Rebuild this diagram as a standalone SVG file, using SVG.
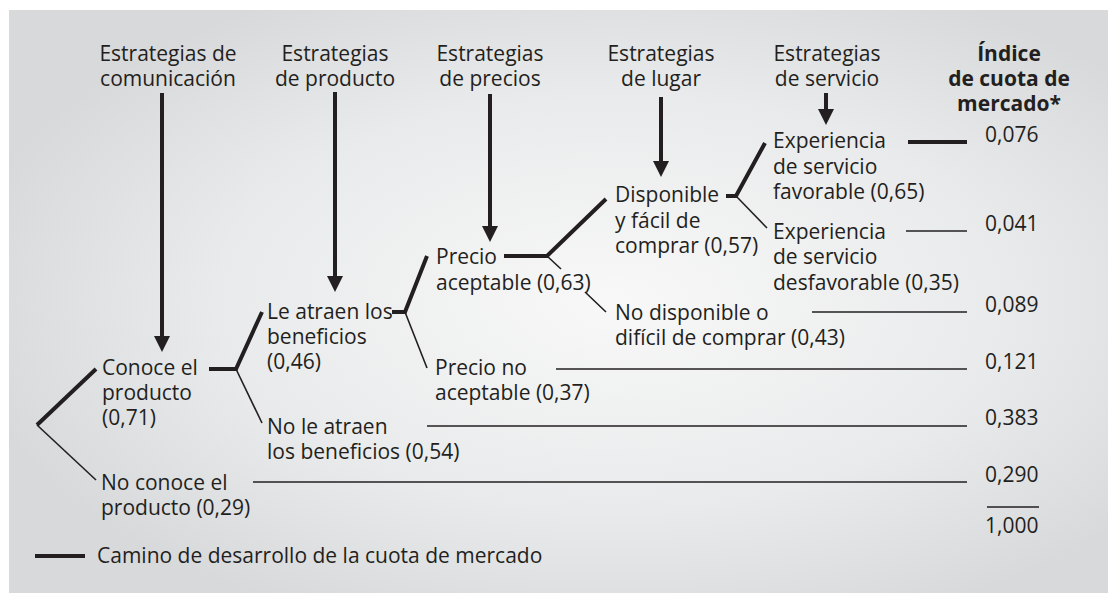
<svg xmlns="http://www.w3.org/2000/svg" width="1108" height="593" viewBox="0 0 1108 593">
<defs>
<radialGradient id="bg" cx="0.55" cy="0.5" r="0.6">
<stop offset="0" stop-color="#f8f8f8"/>
<stop offset="0.6" stop-color="#e9eaeb"/>
<stop offset="1" stop-color="#d8d9db"/>
</radialGradient>
<marker id="ah" viewBox="0 0 16 16" refX="4" refY="8" markerWidth="16" markerHeight="16" markerUnits="userSpaceOnUse" orient="auto">
<path d="M0,0 L16,8 L0,16 Z" fill="#231f20"/>
</marker>
<style>
text{font-family:"Open Sans","Noto Sans","DejaVu Sans",sans-serif;font-size:21px;fill:#231f20}
.h{text-anchor:middle}
.b{font-weight:bold}
.thick{stroke:#231f20;stroke-width:4;fill:none}
.thin{stroke:#231f20;stroke-width:1.6;fill:none}
.arrow{stroke:#231f20;stroke-width:4;fill:none}
</style>
</defs>
<rect x="9" y="10" width="1099" height="583" fill="url(#bg)"/>

<g id="headers">
<g id="h-comunicacion"><text class="h" x="168" y="61">Estrategias de</text><text class="h" x="168" y="86">comunicación</text></g>
<g id="h-producto"><text class="h" x="335" y="61">Estrategias</text><text class="h" x="335" y="86">de producto</text></g>
<g id="h-precios"><text class="h" x="490" y="61">Estrategias</text><text class="h" x="490" y="86">de precios</text></g>
<g id="h-lugar"><text class="h" x="661" y="61">Estrategias</text><text class="h" x="661" y="86">de lugar</text></g>
<g id="h-servicio"><text class="h" x="827" y="61">Estrategias</text><text class="h" x="827" y="86">de servicio</text></g>
<g id="h-indice"><text class="h b" x="1009" y="61">Índice</text><text class="h b" x="1009" y="86">de cuota de</text><text class="h b" x="1009" y="111">mercado*</text></g>
</g>

<g id="n-conoce"><text x="102" y="375">Conoce el</text><text x="102" y="400">producto</text><text x="102" y="425">(0,71)</text></g>
<g id="n-noconoce"><text x="101" y="490">No conoce el</text><text x="101" y="515">producto (0,29)</text></g>
<g id="n-atraen"><text x="267" y="319">Le atraen los</text><text x="267" y="344">beneficios</text><text x="267" y="369">(0,46)</text></g>
<g id="n-noatraen"><text x="267" y="434">No le atraen</text><text x="267" y="459">los beneficios (0,54)</text></g>
<g id="n-precio"><text x="436" y="264">Precio</text><text x="436" y="290">aceptable (0,63)</text></g>
<g id="n-precio-no"><text x="435" y="375">Precio no</text><text x="435" y="400">aceptable (0,37)</text></g>
<g id="n-disponible"><text x="615" y="202">Disponible</text><text x="615" y="228">y fácil de</text><text x="615" y="253">comprar (0,57)</text></g>
<g id="n-nodisponible"><text x="615" y="320">No disponible o</text><text x="615" y="345">difícil de comprar (0,43)</text></g>
<g id="n-favorable"><text x="773" y="148">Experiencia</text><text x="773" y="174">de servicio</text><text x="773" y="199">favorable (0,65)</text></g>
<g id="n-desfavorable"><text x="773" y="239">Experiencia</text><text x="773" y="264">de servicio</text><text x="773" y="290">desfavorable (0,35)</text></g>

<g id="values">
<text x="985" y="142">0,076</text>
<text x="985" y="231">0,041</text>
<text x="985" y="312">0,089</text>
<text x="985" y="369">0,121</text>
<text x="985" y="425">0,383</text>
<text x="985" y="482">0,290</text>
<text x="985" y="533">1,000</text>
</g>

<g id="legend">
<line class="thick" x1="35" y1="556" x2="85" y2="556"/>
<text x="97" y="563">Camino de desarrollo de la cuota de mercado</text>
</g>

<g id="connectors">
<line class="arrow" x1="162" y1="93" x2="162" y2="340" marker-end="url(#ah)"/>
<line class="arrow" x1="335" y1="92" x2="335" y2="280" marker-end="url(#ah)"/>
<line class="arrow" x1="490" y1="94" x2="490" y2="230" marker-end="url(#ah)"/>
<line class="arrow" x1="661" y1="97" x2="661" y2="165" marker-end="url(#ah)"/>
<line class="arrow" x1="826" y1="93" x2="826" y2="113" marker-end="url(#ah)"/>

<path class="thick" d="M96,369 L37,425"/>
<path class="thin" d="M37,425 L96,480"/>
<path class="thick" d="M209,369 L236,369 L262,312"/>
<path class="thin" d="M236,369 L262,423"/>
<path class="thick" d="M392,312 L405,312 L427,256"/>
<path class="thin" d="M405,312 L427,368"/>
<path class="thick" d="M504,256 L547,256 L606,199"/>
<path class="thin" d="M547,256 L561,269 M585,292 L606,312"/>
<path class="thick" d="M726,196 L736,196 L765,143"/>
<path class="thin" d="M736,196 L767,228"/>

<line class="thick" x1="908" y1="142" x2="967" y2="142"/>
<line class="thin" x1="906" y1="231" x2="967" y2="231"/>
<line class="thin" x1="812" y1="312" x2="967" y2="312"/>
<line class="thin" x1="556" y1="369" x2="967" y2="369"/>
<line class="thin" x1="427" y1="426" x2="967" y2="426"/>
<line class="thin" x1="253" y1="482" x2="967" y2="482"/>
<line class="thin" x1="987" y1="507" x2="1039" y2="507"/>
</g>
</svg>
